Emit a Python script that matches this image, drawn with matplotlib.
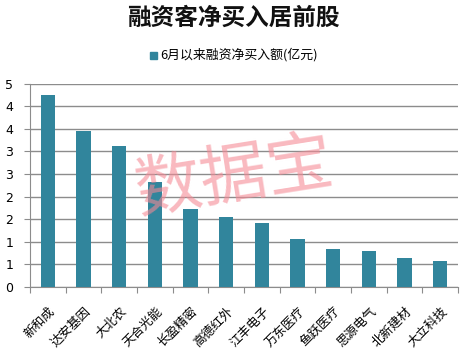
import matplotlib
matplotlib.use("Agg")
import matplotlib.pyplot as plt
import numpy as np

plt.rcParams['font.family'] = ['Noto Sans CJK SC', 'DejaVu Sans']

categories = ["新和成", "达安基因", "大北农", "天合光能", "长盈精密", "高德红外",
              "江丰电子", "万东医疗", "鱼跃医疗", "思源电气", "北新建材", "大立科技"]
values = [4.26, 3.46, 3.12, 2.32, 1.72, 1.55, 1.41, 1.06, 0.84, 0.79, 0.64, 0.57]
ytick_values = [0, 0.5, 1, 1.5, 2, 2.5, 3, 3.5, 4, 4.5]
ytick_labels = ["0", "1", "1", "2", "2", "3", "3", "4", "4", "5"]
series_name = "6月以来融资净买入额(亿元)"
title = "融资客净买入居前股"

bar_color = "#31859C"
grid_color = "#8C8C8C"

fig = plt.figure(figsize=(4.67, 3.57), dpi=100)
ax = fig.add_axes([0.064, 0.197, 0.917, 0.568])

x = np.arange(len(categories))
ax.bar(x, values, width=0.4, color=bar_color, zorder=3, label=series_name)

ax.set_xlim(-0.5, len(categories) - 0.5)
ax.set_ylim(0, 4.5)
ax.set_yticks(ytick_values)
ax.set_yticklabels(ytick_labels, fontsize=9, family='DejaVu Sans')
ax.yaxis.grid(True, color=grid_color, linewidth=1, zorder=0)
ax.tick_params(axis='y', length=4, color=grid_color, pad=8)

for s in ['top', 'right']:
    ax.spines[s].set_visible(False)
for s in ['left', 'bottom']:
    ax.spines[s].set_color(grid_color)

# ticks between categories
ax.set_xticks(np.arange(len(categories) + 1) - 0.5)
ax.set_xticklabels([])
ax.tick_params(axis='x', length=4, color=grid_color, direction='out')
for i, c in enumerate(categories):
    ax.text(i + 0.02, -0.4, c, rotation=45, ha='right', va='top',
            fontsize=9, rotation_mode='anchor', transform=ax.transData)

fig.text(0.5, 0.95, title, ha='center', va='center', fontsize=17,
         fontweight='bold', color='#111111')

# legend
fig.patches.append(matplotlib.patches.Rectangle((150 / 467, 1 - 59 / 357), 7 / 467, 7 / 357,
                                                 transform=fig.transFigure, color=bar_color))
fig.text(160 / 467, 1 - 55 / 357, series_name, ha='left', va='center', fontsize=9.3)

# watermark
fig.text(234 / 467, 1 - 178 / 357, "数据宝", ha='center', va='center', fontsize=48,
         color='#F58A95', alpha=0.6, rotation=9, zorder=10)

fig.savefig("out.png", dpi=100)
